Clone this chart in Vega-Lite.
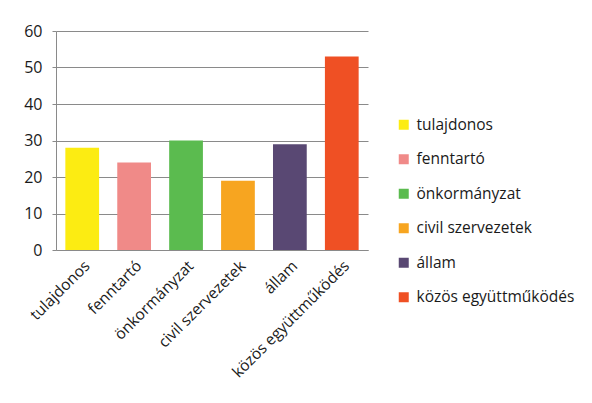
{
  "$schema": "https://vega.github.io/schema/vega-lite/v6.json",
  "width": 312,
  "height": 219,
  "autosize": {"type": "none"},
  "padding": {"left": 56, "top": 31, "right": 224, "bottom": 153},
  "background": "white",
  "data": {"values": [
    {"kat": "tulajdonos", "v": 28},
    {"kat": "fenntartó", "v": 24},
    {"kat": "önkormányzat", "v": 30},
    {"kat": "civil szervezetek", "v": 19},
    {"kat": "állam", "v": 29},
    {"kat": "közös együttműködés", "v": 53}
  ]},
  "mark": {"type": "bar"},
  "encoding": {
    "x": {"field": "kat", "type": "nominal", "sort": null,
      "scale": {"paddingInner": 0.35, "paddingOuter": 0.18},
      "axis": {"title": null, "labelAngle": -45, "labelAlign": "right", "labelBaseline": "top", "ticks": false, "labelPadding": 8, "domainColor": "#8a8a8a", "labelFontSize": 15.5, "labelColor": "#1a1a1a", "labelFont": "Open Sans"}},
    "y": {"field": "v", "type": "quantitative",
      "scale": {"domain": [0, 60], "nice": false},
      "axis": {"title": null, "values": [0, 10, 20, 30, 40, 50, 60], "tickSize": 4, "tickColor": "#8a8a8a", "domainColor": "#8a8a8a", "gridColor": "#8a8a8a", "labelPadding": 10, "labelFontSize": 16, "labelColor": "#1a1a1a", "labelFont": "Open Sans"}},
    "color": {"field": "kat", "type": "nominal", "sort": null,
      "scale": {"domain": ["tulajdonos", "fenntartó", "önkormányzat", "civil szervezetek", "állam", "közös együttműködés"],
        "range": ["#FCEC12", "#F08A88", "#5BBB4F", "#F7A520", "#594873", "#EF5024"]},
      "legend": {"title": null, "orient": "none", "legendX": 340, "legendY": 86, "symbolType": "square", "symbolSize": 100, "rowPadding": 17.5, "labelFontSize": 15.5, "labelColor": "#1a1a1a", "labelFont": "Open Sans", "labelOffset": 5}}
  },
  "config": {"view": {"stroke": null}}
}
